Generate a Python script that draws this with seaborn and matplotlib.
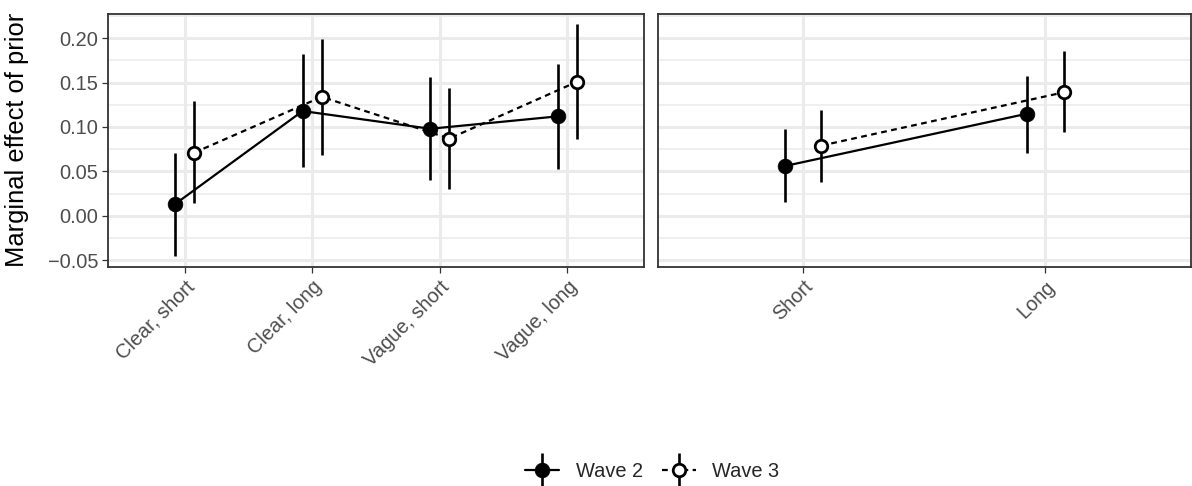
import numpy as np
import pandas as pd
import matplotlib
matplotlib.use("Agg")
import matplotlib.pyplot as plt
import seaborn as sns
from matplotlib.lines import Line2D
from matplotlib.legend_handler import HandlerTuple
from matplotlib.ticker import MultipleLocator, FuncFormatter

# ---- data -------------------------------------------------------------
categories_left = ["Clear, short", "Clear, long", "Vague, short", "Vague, long"]
categories_right = ["Short", "Long"]
waves = ["Wave 2", "Wave 3"]

est_left_w2 = [0.013, 0.118, 0.098, 0.112]
lo_left_w2 = [-0.045, 0.055, 0.040, 0.053]
hi_left_w2 = [0.071, 0.182, 0.156, 0.171]

est_left_w3 = [0.071, 0.134, 0.087, 0.151]
lo_left_w3 = [0.014, 0.068, 0.030, 0.086]
hi_left_w3 = [0.129, 0.199, 0.144, 0.216]

est_right_w2 = [0.056, 0.115]
lo_right_w2 = [0.015, 0.071]
hi_right_w2 = [0.098, 0.158]

est_right_w3 = [0.079, 0.139]
lo_right_w3 = [0.038, 0.094]
hi_right_w3 = [0.119, 0.186]

# ---- tidy frame --------------------------------------------------------
panels = {
    "left": (categories_left, {
        "Wave 2": (est_left_w2, lo_left_w2, hi_left_w2),
        "Wave 3": (est_left_w3, lo_left_w3, hi_left_w3),
    }),
    "right": (categories_right, {
        "Wave 2": (est_right_w2, lo_right_w2, hi_right_w2),
        "Wave 3": (est_right_w3, lo_right_w3, hi_right_w3),
    }),
}
rows = []
for panel, (cats, series) in panels.items():
    for wave, (est, lo, hi) in series.items():
        for i, cat in enumerate(cats):
            rows.append(dict(panel=panel, category=cat, pos=i, wave=wave,
                             est=est[i], lo=lo[i], hi=hi[i]))
df = pd.DataFrame(rows)
dodge = {"Wave 2": -0.075, "Wave 3": 0.075}
df["x"] = df["pos"] + df["wave"].map(dodge)

# ---- style -------------------------------------------------------------
sns.set_style("white")
plt.rcParams["font.family"] = ["Liberation Sans", "DejaVu Sans"]
plt.rcParams["axes.unicode_minus"] = True

GRID = "#EBEBEB"
BORDER = "#333333"
TICKTXT = "#4D4D4D"
TICK_FS = 14.4

wave_style = {
    "Wave 2": dict(linestyle="-", marker="o", markersize=10.6,
                   markerfacecolor="black", markeredgecolor="black",
                   markeredgewidth=0.5),
    "Wave 3": dict(linestyle=(0, (2.6, 2.0)), marker="o", markersize=9.0,
                   markerfacecolor="white", markeredgecolor="black",
                   markeredgewidth=2.0),
}

fig = plt.figure(figsize=(11.92, 4.86), dpi=100)
W, H = 1192.0, 486.0
bottom = (H - 267.3) / H
height = (267.3 - 14.0) / H
ax_left = fig.add_axes([108 / W, bottom, 536 / W, height])
ax_right = fig.add_axes([657.7 / W, bottom, 533 / W, height])

ylim = (-0.0582, 0.2274)

for ax, panel in [(ax_left, "left"), (ax_right, "right")]:
    cats = panels[panel][0]
    sub = df[df["panel"] == panel]
    for wave in waves:
        d = sub[sub["wave"] == wave]
        ax.vlines(d["x"], d["lo"], d["hi"], color="black", lw=1.9, zorder=3)
        sns.lineplot(data=d, x="x", y="est", ax=ax, color="black", lw=1.6,
                     errorbar=None, legend=False, zorder=4, **wave_style[wave])

    ax.set_xlim(-0.6, len(cats) - 1 + 0.6)
    ax.set_ylim(*ylim)
    ax.set_xticks(np.arange(len(cats)))
    ax.set_xticklabels(cats, rotation=45, ha="right", va="top",
                       rotation_mode="anchor", fontsize=TICK_FS, color=TICKTXT)
    ax.yaxis.set_major_locator(MultipleLocator(0.05))
    ax.yaxis.set_minor_locator(MultipleLocator(0.025))
    ax.yaxis.set_major_formatter(
        FuncFormatter(lambda v, p: f"{v:.2f}".replace("-", "\u2212")))
    ax.set_xlabel("")
    ax.set_ylabel("")

    ax.grid(which="major", color=GRID, lw=2.2, zorder=0)
    ax.grid(which="minor", axis="y", color=GRID, lw=1.1, zorder=0)
    ax.set_axisbelow(True)

    for sp in ax.spines.values():
        sp.set_visible(True)
        sp.set_color(BORDER)
        sp.set_linewidth(1.3)

    ax.tick_params(which="major", axis="both", length=4.5, width=0.9,
                   color=BORDER, pad=2.5, labelsize=TICK_FS, labelcolor=TICKTXT,
                   bottom=True, left=True)
    ax.tick_params(which="minor", length=0)

ax_right.tick_params(axis="y", left=False, labelleft=False)

fig.text(17 / W, 1 - 140 / H, "Marginal effect of prior", rotation=90,
         ha="center", va="center", fontsize=18.4, color="black")

# ---- legend: line + point + vertical error bar, overlaid ---------------
handles = []
for wave in waves:
    st = wave_style[wave]
    pt = Line2D([], [], color="black", lw=1.6, **st)
    bar = Line2D([], [], color="black", linestyle="none", marker="|",
                 markersize=24, markeredgewidth=1.9)
    handles.append((bar, pt))

fig.legend(handles, waves, handler_map={tuple: HandlerTuple(ndivide=1, pad=0)},
           loc="center", bbox_to_anchor=(652.5 / W, 1 - 471 / H), ncol=2,
           frameon=False, fontsize=TICK_FS, handlelength=1.7,
           handletextpad=0.85, columnspacing=0.9, borderpad=0.2)

fig.savefig("out.png", dpi=100)
